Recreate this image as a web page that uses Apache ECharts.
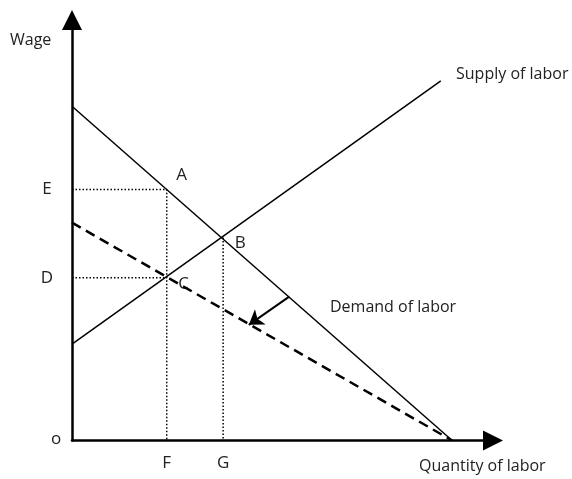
<!DOCTYPE html>
<html>
<head>
<meta charset="utf-8">
<script src="https://cdn.jsdelivr.net/npm/echarts@6/dist/echarts.min.js"></script>
<style>
  html, body { margin: 0; padding: 0; background: #fff; }
  #main { width: 572px; height: 479px; }
</style>
</head>
<body>
<div id="main"></div>
<script>
// curves, in axis units (0..100 on both axes)
var demand = [[0, 79.5], [90.3, 0]];
var newDemand = [[0, 51.8], [90.3, 0]];
var supply = [[0, 22.9], [87.6, 85.5]];
// dotted guides
var guideE = [[0, 59.7], [22.5, 59.7], [22.5, 0]];
var guideD = [[0, 38.7], [22.5, 38.7]];
var guideG = [[35.9, 48.3], [35.9, 0]];
// shift arrow
var shift = [[51.6, 34.2], [42.0, 27.5]];
// point labels: x, y, text
var points = [
  [22.5, 59.7, 'A'],
  [35.9, 48.3, 'B'],
  [22.5, 38.7, 'C'],
  [0, 59.7, 'E'],
  [0, 38.7, 'D'],
  [0, 0, 'o'],
  [22.5, 0, 'F'],
  [35.9, 0, 'G']
];
var offsets = {
  A: [15, -14], B: [17, 6], C: [17, 6], E: [-25, 0],
  D: [-25, 0], o: [-16, -1], F: [0, 23], G: [0, 23]
};

(function () {
var dom = document.getElementById('main');
var myChart = echarts.init(dom);
var font = 'Open Sans';
var txt = '#222';

function plain(name, data, width, type) {
  return {
    name: name,
    type: 'line',
    data: data,
    symbol: 'none',
    silent: true,
    lineStyle: { color: '#000', width: width, type: type || 'solid' }
  };
}

var option = {
  animation: false,
  grid: { left: 72, right: 79, top: 20, bottom: 38.5 },
  xAxis: {
    type: 'value', min: 0, max: 100,
    axisLine: { show: true, onZero: false, symbol: ['none', 'triangle'], symbolSize: [20, 20],
      lineStyle: { color: '#000', width: 2.5 } },
    axisTick: { show: false }, axisLabel: { show: false }, splitLine: { show: false }
  },
  yAxis: {
    type: 'value', min: 0, max: 100,
    axisLine: { show: true, onZero: false, symbol: ['none', 'triangle'], symbolSize: [20, 20],
      lineStyle: { color: '#000', width: 2.5 } },
    axisTick: { show: false }, axisLabel: { show: false }, splitLine: { show: false }
  },
  series: [
    plain('Demand of labor', demand, 1.5),
    plain('New demand', newDemand, 2.5, [10, 6]),
    plain('Supply of labor', supply, 1.5),
    plain('guideE', guideE, 1.5, [1.5, 2]),
    plain('guideD', guideD, 1.5, [1.5, 2]),
    plain('guideG', guideG, 1.5, [1.5, 2]),
    {
      name: 'shift',
      type: 'lines',
      coordinateSystem: 'cartesian2d',
      symbol: ['none', 'arrow'],
      symbolSize: 14,
      silent: true,
      lineStyle: { color: '#000', width: 2, opacity: 1 },
      data: [{ coords: shift }]
    },
    {
      name: 'labels',
      type: 'scatter',
      symbolSize: 1,
      silent: true,
      itemStyle: { color: 'rgba(0,0,0,0)' },
      data: points.map(function (p) {
        return {
          value: [p[0], p[1]],
          label: {
            show: true, position: 'inside', formatter: p[2], opacity: 1,
            offset: offsets[p[2]], color: txt, fontSize: 17, fontFamily: font
          }
        };
      })
    }
  ],
  graphic: [
    { type: 'text', left: 10, top: 32, style: { text: 'Wage', fill: txt, font: '16px "Open Sans"' } },
    { type: 'text', left: 456, top: 66, style: { text: 'Supply of labor', fill: txt, font: '16px "Open Sans"' } },
    { type: 'text', left: 330, top: 299, style: { text: 'Demand of labor', fill: txt, font: '16px "Open Sans"' } },
    { type: 'text', left: 419, top: 458, style: { text: 'Quantity of labor', fill: txt, font: '16px "Open Sans"' } }
  ]
};

myChart.setOption(option, true);
})();
</script>
</body>
</html>
